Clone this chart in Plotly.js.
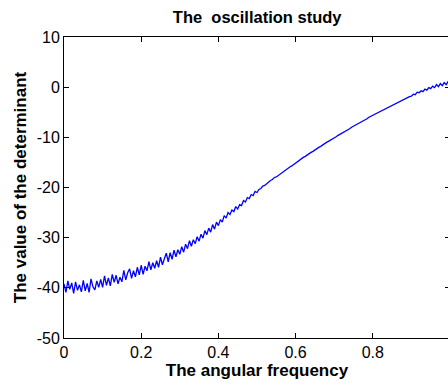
<!DOCTYPE html>
<html>
<head>
<meta charset="utf-8">
<script src="https://cdn.plot.ly/plotly-3.0.1.min.js"></script>
<style>
html,body{margin:0;padding:0;overflow:hidden;background:#fff;}
#chart{width:450px;height:386px;}
</style>
</head>
<body>
<div id="chart"></div>
<script>
// angular frequency samples (0 to 1, step 0.005)
const freq = [
0.000,0.005,0.010,0.015,0.020,0.025,0.030,0.035,0.040,0.045,
0.050,0.055,0.060,0.065,0.070,0.075,0.080,0.085,0.090,0.095,
0.100,0.105,0.110,0.115,0.120,0.125,0.130,0.135,0.140,0.145,
0.150,0.155,0.160,0.165,0.170,0.175,0.180,0.185,0.190,0.195,
0.200,0.205,0.210,0.215,0.220,0.225,0.230,0.235,0.240,0.245,
0.250,0.255,0.260,0.265,0.270,0.275,0.280,0.285,0.290,0.295,
0.300,0.305,0.310,0.315,0.320,0.325,0.330,0.335,0.340,0.345,
0.350,0.355,0.360,0.365,0.370,0.375,0.380,0.385,0.390,0.395,
0.400,0.405,0.410,0.415,0.420,0.425,0.430,0.435,0.440,0.445,
0.450,0.455,0.460,0.465,0.470,0.475,0.480,0.485,0.490,0.495,
0.500,0.505,0.510,0.515,0.520,0.525,0.530,0.535,0.540,0.545,
0.550,0.555,0.560,0.565,0.570,0.575,0.580,0.585,0.590,0.595,
0.600,0.605,0.610,0.615,0.620,0.625,0.630,0.635,0.640,0.645,
0.650,0.655,0.660,0.665,0.670,0.675,0.680,0.685,0.690,0.695,
0.700,0.705,0.710,0.715,0.720,0.725,0.730,0.735,0.740,0.745,
0.750,0.755,0.760,0.765,0.770,0.775,0.780,0.785,0.790,0.795,
0.800,0.805,0.810,0.815,0.820,0.825,0.830,0.835,0.840,0.845,
0.850,0.855,0.860,0.865,0.870,0.875,0.880,0.885,0.890,0.895,
0.900,0.905,0.910,0.915,0.920,0.925,0.930,0.935,0.940,0.945,
0.950,0.955,0.960,0.965,0.970,0.975,0.980,0.985,0.990,0.995,
1.000
];
// value of the determinant
const determinant = [
-39.2,-40.9,-38.6,-40.3,-39.0,-41.1,-38.8,-40.5,-39.4,-40.8,
-38.5,-40.6,-39.1,-40.9,-38.2,-39.8,-40.4,-38.6,-39.9,-38.3,
-39.9,-37.6,-39.5,-38.0,-39.6,-37.3,-38.9,-37.5,-39.2,-37.9,
-38.8,-36.5,-38.4,-37.0,-36.2,-38.1,-36.6,-37.8,-35.9,-37.4,
-35.5,-37.3,-35.7,-36.6,-34.8,-36.4,-35.0,-36.1,-34.6,-35.9,
-33.9,-35.4,-34.2,-33.1,-34.8,-33.0,-34.3,-32.5,-33.8,-32.4,
-33.3,-31.8,-32.9,-31.3,-32.2,-30.6,-31.7,-30.4,-31.2,-29.8,
-30.7,-29.3,-30.1,-28.6,-29.4,-28.1,-28.9,-27.4,-28.3,-26.9,
-27.6,-26.4,-26.9,-25.6,-26.1,-25.0,-25.4,-24.5,-24.8,-23.8,
-24.3,-23.4,-23.6,-22.6,-22.9,-22.0,-22.2,-21.4,-21.6,-20.8,
-21.0,-20.4,-20.2,-19.7,-19.6,-19.2,-18.9,-18.6,-18.4,-18.0,
-17.9,-17.6,-17.3,-17.0,-16.8,-16.5,-16.2,-15.9,-15.7,-15.4,
-15.1,-14.9,-14.6,-14.3,-14.0,-13.8,-13.5,-13.3,-13.0,-12.8,
-12.5,-12.3,-12.0,-11.8,-11.5,-11.3,-11.0,-10.8,-10.6,-10.3,
-10.1,-9.9,-9.6,-9.4,-9.2,-8.9,-8.7,-8.5,-8.3,-8.0,
-7.8,-7.6,-7.4,-7.2,-6.9,-6.7,-6.5,-6.3,-6.0,-5.8,
-5.6,-5.4,-5.2,-5.0,-4.8,-4.6,-4.4,-4.2,-4.0,-3.8,
-3.6,-3.4,-3.3,-3.0,-2.9,-2.7,-2.4,-2.3,-2.1,-1.9,
-1.8,-1.4,-1.5,-1.0,-1.1,-0.7,-0.9,-0.4,-0.6,-0.1,
-0.3,0.2,-0.1,0.5,0.1,0.7,0.3,0.9,0.5,1.1,
0.9
];
const xTicks = [0, 0.2, 0.4, 0.6, 0.8, 1];
const yTicks = [-50, -40, -30, -20, -10, 0, 10];

const font = "Liberation Sans, Arial, sans-serif";
const axisCommon = {
  showline: true, linecolor: '#000', linewidth: 1, mirror: 'ticks',
  ticks: 'inside', ticklen: 5, tickcolor: '#000', tickwidth: 1,
  showgrid: false, zeroline: false,
  tickfont: {family: font, size: 16, color: '#000'}
};

Plotly.newPlot('chart', [{
  x: freq, y: determinant, type: 'scatter', mode: 'lines',
  line: {color: '#0000ff', width: 1.3}
}], {
  width: 450, height: 386,
  margin: {l: 64, r: 0, t: 37, b: 48},
  paper_bgcolor: '#fff', plot_bgcolor: '#fff',
  showlegend: false,
  title: {text: 'The\u00a0 oscillation study', font: {family: font, size: 16.5, color: '#000', weight: 'bold'}, x: 0.5715, xanchor: 'center', y: 0.955, yanchor: 'middle'},
  xaxis: Object.assign({}, axisCommon, {
    range: [0, 1], tickvals: xTicks, ticktext: xTicks.map(String),
    title: {text: 'The angular frequency', font: {family: font, size: 17, color: '#000', weight: 'bold'}, standoff: 3}
  }),
  yaxis: Object.assign({}, axisCommon, {
    range: [-50, 10], tickvals: yTicks, ticktext: yTicks.map(String),
    title: {text: 'The value of the determinant', font: {family: font, size: 17, color: '#000', weight: 'bold'}, standoff: 5}
  })
}, {displayModeBar: false, staticPlot: true});
</script>
</body>
</html>
